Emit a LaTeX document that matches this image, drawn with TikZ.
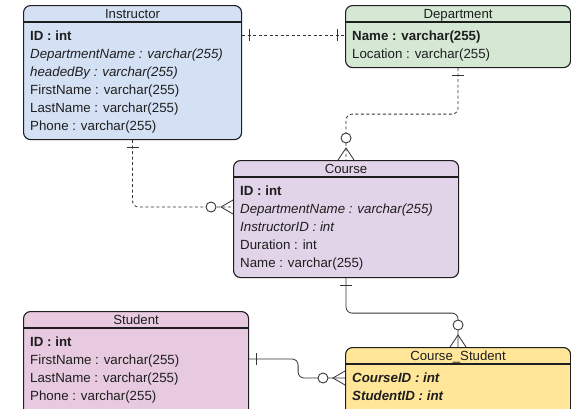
\documentclass[tikz,border=0pt]{standalone}
\usepackage{fontspec}
\setmainfont{Liberation Sans}
\usetikzlibrary{calc}
\definecolor{instrc}{RGB}{212,225,245}
\definecolor{deptc}{RGB}{213,232,212}
\definecolor{coursec}{RGB}{225,211,232}
\definecolor{studc}{RGB}{231,202,223}
\definecolor{csc}{RGB}{255,230,153}
\definecolor{ink}{RGB}{30,30,30}
\begin{document}
\begin{tikzpicture}[x=1pt,y=-1pt,
  entity/.style={draw=ink, line width=1.1pt, rounded corners=7pt, anchor=north west, inner sep=0pt},
  hdr/.style={draw=ink, line width=1.2pt},
  ttl/.style={font=\fontsize{13.2}{15}\selectfont, text=ink, inner sep=0pt, anchor=base},
  attr/.style={font=\fontsize{13.3}{15}\selectfont, text=ink, inner sep=0pt, anchor=base west},
  conn/.style={draw=ink!90, line width=0.8pt, rounded corners=6pt},
  dconn/.style={conn, dash pattern=on 3pt off 2.5pt},
  mark1/.style={draw=ink!90, line width=0.8pt},
  ring/.style={draw=ink!90, line width=0.9pt, fill=white}
]
\clip (0,0) rectangle (571,408);
\fill[white] (0,0) rectangle (571,408);

% entities
\node[entity, fill=instrc, minimum width=218pt, minimum height=134pt] (instr) at (23,5) {};
\node[entity, fill=deptc, minimum width=225pt, minimum height=62pt] (dept) at (345,5) {};
\node[entity, fill=coursec, minimum width=225pt, minimum height=117pt] (course) at (233,160) {};
\node[entity, fill=studc, minimum width=225pt, minimum height=110pt] (stud) at (23,311) {};
\node[entity, fill=csc, minimum width=225pt, minimum height=80pt] (cs) at (345,347) {};

% header lines
\foreach \e in {instr,dept,course,stud,cs}{
  \draw[hdr] ($(\e.north west)+(0,17)$) -- ($(\e.north east)+(0,17)$);
}

% titles
\node[ttl] (instrT) at ($(instr.north)+(0,13.5)$) {Instructor};
\node[ttl] (deptT) at ($(dept.north)+(0,13.5)$) {Department};
\node[ttl] (courseT) at ($(course.north)+(0,13.5)$) {Course};
\node[ttl] (studT) at ($(stud.north)+(0,13.5)$) {Student};
\node[ttl] (csT) at ($(cs.north)+(0,13.5)$) {Course\_Student};

% Instructor attributes
\node[attr] (i1) at ($(instr.north west)+(7,35)$) {\bfseries ID : int};
\node[attr] (i2) at ($(instr.north west)+(7,53)$) {\itshape DepartmentName : varchar(255)};
\node[attr] (i3) at ($(instr.north west)+(7,71)$) {\itshape headedBy : varchar(255)};
\node[attr] (i4) at ($(instr.north west)+(7,89)$) {FirstName : varchar(255)};
\node[attr] (i5) at ($(instr.north west)+(7,107)$) {LastName : varchar(255)};
\node[attr] (i6) at ($(instr.north west)+(7,125)$) {Phone : varchar(255)};

% Department attributes
\node[attr] (d1) at ($(dept.north west)+(7,35)$) {\bfseries Name : varchar(255)};
\node[attr] (d2) at ($(dept.north west)+(7,53)$) {Location : varchar(255)};

% Course attributes
\node[attr] (c1) at ($(course.north west)+(7,35)$) {\bfseries ID : int};
\node[attr] (c2) at ($(course.north west)+(7,53)$) {\itshape DepartmentName : varchar(255)};
\node[attr] (c3) at ($(course.north west)+(7,71)$) {\itshape InstructorID : int};
\node[attr] (c4) at ($(course.north west)+(7,89)$) {Duration : int};
\node[attr] (c5) at ($(course.north west)+(7,107)$) {Name : varchar(255)};

% Student attributes
\node[attr] (s1) at ($(stud.north west)+(7,35)$) {\bfseries ID : int};
\node[attr] (s2) at ($(stud.north west)+(7,53)$) {FirstName : varchar(255)};
\node[attr] (s3) at ($(stud.north west)+(7,71)$) {LastName : varchar(255)};
\node[attr] (s4) at ($(stud.north west)+(7,89)$) {Phone : varchar(255)};

% Course_Student attributes
\node[attr] (k1) at ($(cs.north west)+(7,35)$) {\bfseries\itshape CourseID : int};
\node[attr] (k2) at ($(cs.north west)+(7,53)$) {\bfseries\itshape StudentID : int};

% ---- connector: Instructor -- Department
\coordinate (a1) at ($(instr.north east)+(0,30)$);
\coordinate (a2) at (a1 -| dept.west);
\draw[dconn] (a1) -- (a2);
\draw[mark1] ($(a1)+(7,-6)$) -- ($(a1)+(7,6)$);
\draw[mark1] ($(a2)+(-8,-6)$) -- ($(a2)+(-8,6)$);

% ---- connector: Department -- Course
\draw[dconn] (dept.south) -- ($(dept.south)+(0,46)$) -| (course.north);
\draw[mark1] ($(dept.south)+(-6,7)$) -- ($(dept.south)+(6,7)$);
\draw[mark1] ($(course.north)+(-8,0)$) -- ($(course.north)+(0,-12)$) -- ($(course.north)+(8,0)$);
\draw[ring] ($(course.north)+(0,-22)$) circle (5pt);

% ---- connector: Instructor -- Course
\coordinate (b2) at ($(course.north west)+(0,47)$);
\draw[dconn] (instr.south) |- (b2);
\draw[mark1] ($(instr.south)+(-6,7)$) -- ($(instr.south)+(6,7)$);
\draw[mark1] ($(b2)+(0,-7)$) -- ($(b2)+(-12,0)$) -- ($(b2)+(0,7)$);
\draw[ring] ($(b2)+(-22,0)$) circle (5pt);

% ---- connector: Course -- Course_Student
\draw[conn] (course.south) -- ($(course.south)+(0,35)$) -| (cs.north);
\draw[mark1] ($(course.south)+(-6,7)$) -- ($(course.south)+(6,7)$);
\draw[mark1] ($(cs.north)+(-8,0)$) -- ($(cs.north)+(0,-12)$) -- ($(cs.north)+(8,0)$);
\draw[ring] ($(cs.north)+(0,-22)$) circle (5pt);

% ---- connector: Student -- Course_Student
\coordinate (e1) at ($(stud.north east)+(0,48)$);
\coordinate (e2) at ($(cs.north west)+(0,31)$);
\draw[conn] (e1) -- ($(e1)+(49,0)$) |- (e2);
\draw[mark1] ($(e1)+(7,-6)$) -- ($(e1)+(7,6)$);
\draw[mark1] ($(e2)+(0,-7)$) -- ($(e2)+(-12,0)$) -- ($(e2)+(0,7)$);
\draw[ring] ($(e2)+(-22,0)$) circle (5pt);
\end{tikzpicture}
\end{document}
